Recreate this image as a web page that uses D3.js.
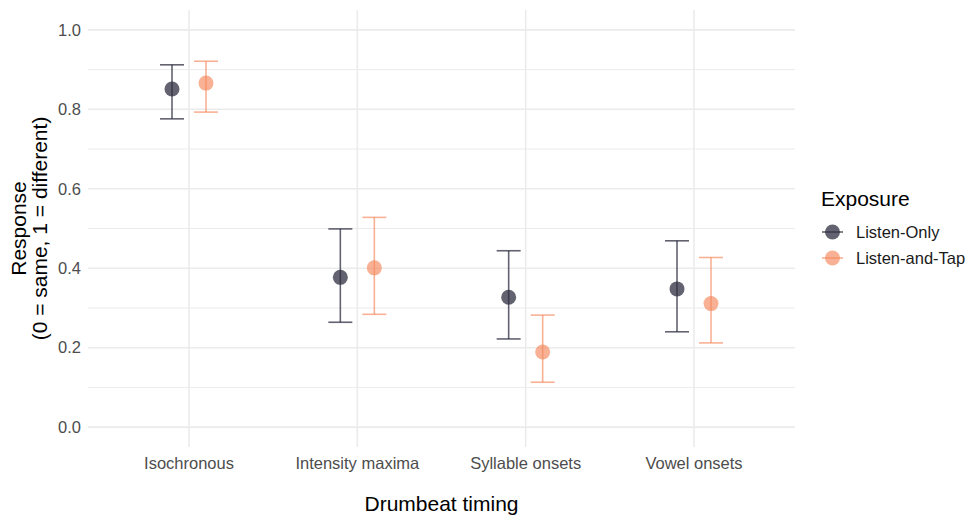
<!DOCTYPE html>
<meta charset="utf-8">
<style>
body { margin: 0; background: #fff; }
svg { font-family: "Liberation Sans", Arial, sans-serif; }
.grid line { stroke: #ebebeb; }
.tick-lab { fill: #4d4d4d; font-size: 16.5px; }
</style>
<svg width="971" height="517"></svg>
<script src="https://d3js.org/d3.v7.min.js"></script>
<script>
// dados
var categorias = ["Isochronous", "Intensity maxima", "Syllable onsets", "Vowel onsets"];
var grupos = ["Listen-Only", "Listen-and-Tap"];
var mediaLO = [0.851, 0.377, 0.327, 0.348];
var infLO   = [0.776, 0.264, 0.222, 0.240];
var supLO   = [0.912, 0.499, 0.444, 0.469];
var mediaLT = [0.866, 0.401, 0.189, 0.311];
var infLT   = [0.793, 0.284, 0.113, 0.212];
var supLT   = [0.921, 0.528, 0.282, 0.427];
var yTicks = [0, 0.2, 0.4, 0.6, 0.8, 1.0];
var yMinor = [0.1, 0.3, 0.5, 0.7, 0.9];

var cores = { "Listen-Only": "#2e2e40", "Listen-and-Tap": "#f4875a" };

var svg = d3.select("svg");
var painel = { x0: 88, x1: 795, y0: 10, y1: 447 };

// escala discreta ao estilo ggplot (expansão de 0.6)
var x = d3.scaleLinear().domain([0.4, 4.6]).range([painel.x0, painel.x1]);
var y = d3.scaleLinear().domain([-0.05, 1.05]).range([painel.y1, painel.y0]);
var dodge = 17, cap = 12;

var dados = [];
categorias.forEach(function(c, i) {
  dados.push({cat: c, i: i, g: grupos[0], m: mediaLO[i], lo: infLO[i], hi: supLO[i], dx: -dodge});
  dados.push({cat: c, i: i, g: grupos[1], m: mediaLT[i], lo: infLT[i], hi: supLT[i], dx: dodge});
});

// grade
var grid = svg.append("g").attr("class", "grid");
grid.selectAll(".minor").data(yMinor).enter().append("line")
    .attr("x1", painel.x0).attr("x2", painel.x1)
    .attr("y1", d => y(d)).attr("y2", d => y(d)).attr("stroke-width", 1);
grid.selectAll(".major").data(yTicks).enter().append("line")
    .attr("x1", painel.x0).attr("x2", painel.x1)
    .attr("y1", d => y(d)).attr("y2", d => y(d)).attr("stroke-width", 1.6);
grid.selectAll(".vert").data(categorias).enter().append("line")
    .attr("x1", (d, i) => x(i + 1)).attr("x2", (d, i) => x(i + 1))
    .attr("y1", painel.y0).attr("y2", painel.y1).attr("stroke-width", 1.6);

// eixos (só textos)
svg.append("g").selectAll("text").data(yTicks).enter().append("text")
    .attr("class", "tick-lab")
    .attr("x", 81).attr("y", d => y(d)).attr("dy", "0.35em")
    .attr("text-anchor", "end").text(d => d.toFixed(1));
svg.append("g").selectAll("text").data(categorias).enter().append("text")
    .attr("class", "tick-lab")
    .attr("x", (d, i) => x(i + 1)).attr("y", 469)
    .attr("text-anchor", "middle").text(d => d);

svg.append("text").attr("x", x(2.5)).attr("y", 511)
    .attr("text-anchor", "middle").attr("font-size", 21).attr("fill", "#000")
    .text("Drumbeat timing");
var yt = svg.append("text").attr("transform", "translate(0," + y(0.5) + ") rotate(-90)")
    .attr("text-anchor", "middle").attr("font-size", 21).attr("fill", "#000");
yt.append("tspan").attr("x", 0).attr("y", 26).text("Response");
yt.append("tspan").attr("x", 0).attr("y", 47).text("(0 = same, 1 = different)");

// barras de erro
var marcas = svg.append("g");
var eb = marcas.selectAll(".eb").data(dados).enter().append("g")
    .attr("stroke", d => cores[d.g])
    .attr("stroke-opacity", d => d.g === grupos[0] ? 0.75 : 0.65)
    .attr("stroke-width", 1.6).attr("fill", "none");
eb.append("line")
    .attr("x1", d => x(d.i + 1) + d.dx).attr("x2", d => x(d.i + 1) + d.dx)
    .attr("y1", d => y(d.lo)).attr("y2", d => y(d.hi));
eb.append("line")
    .attr("x1", d => x(d.i + 1) + d.dx - cap).attr("x2", d => x(d.i + 1) + d.dx + cap)
    .attr("y1", d => y(d.hi)).attr("y2", d => y(d.hi));
eb.append("line")
    .attr("x1", d => x(d.i + 1) + d.dx - cap).attr("x2", d => x(d.i + 1) + d.dx + cap)
    .attr("y1", d => y(d.lo)).attr("y2", d => y(d.lo));

// pontos
marcas.selectAll("circle").data(dados).enter().append("circle")
    .attr("cx", d => x(d.i + 1) + d.dx).attr("cy", d => y(d.m)).attr("r", 7.5)
    .attr("fill", d => cores[d.g])
    .attr("fill-opacity", d => d.g === grupos[0] ? 0.75 : 0.65);

// legenda
var leg = svg.append("g").attr("transform", "translate(821,0)");
leg.append("text").attr("x", 0).attr("y", 206).attr("font-size", 21).text("Exposure");
var item = leg.selectAll(".item").data(grupos).enter().append("g")
    .attr("transform", (d, i) => "translate(0," + (232 + i * 26) + ")");
item.append("line").attr("x1", 1).attr("x2", 22).attr("y1", 0).attr("y2", 0)
    .attr("stroke", d => cores[d]).attr("stroke-width", 1.6)
    .attr("stroke-opacity", (d, i) => i === 0 ? 0.75 : 0.65);
item.append("circle").attr("cx", 11.5).attr("cy", 0).attr("r", 7.5)
    .attr("fill", d => cores[d]).attr("fill-opacity", (d, i) => i === 0 ? 0.75 : 0.65);
item.append("text").attr("x", 35).attr("y", 0).attr("dy", "0.35em")
    .attr("font-size", 16.5).attr("fill", "#1a1a1a").text(d => d);
</script>
